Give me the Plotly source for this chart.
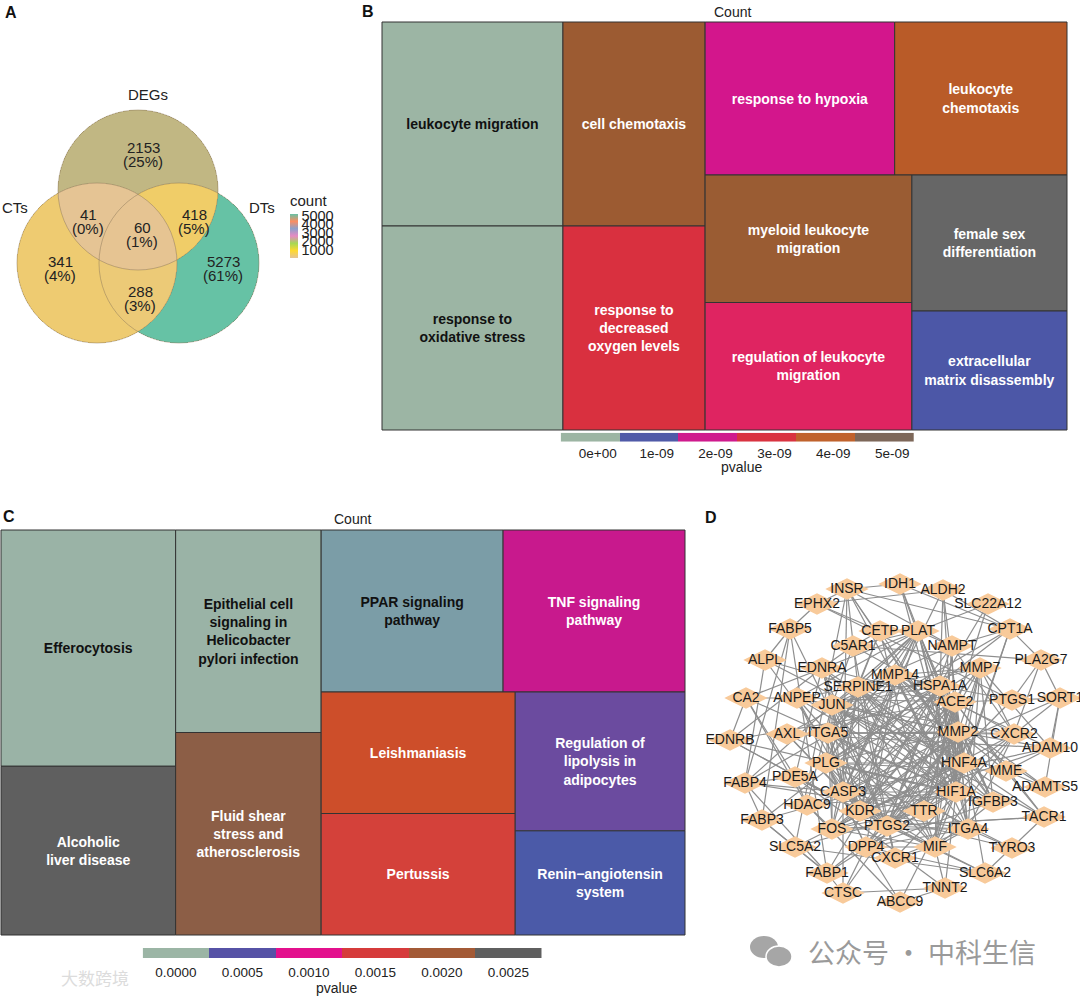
import numpy as np
import plotly.graph_objects as go

W, H = 1080, 996
FONT = "Liberation Sans, Arial, Helvetica, sans-serif"
CJK = "Noto Sans CJK SC"

# ======================= DATA =======================
# Panel A - Venn diagram
venn_sets = ["DEGs", "CTs", "DTs"]
venn_membership = [(1, 0, 0), (0, 1, 0), (0, 0, 1), (1, 1, 0), (1, 0, 1), (0, 1, 1), (1, 1, 1)]
venn_counts = [2153, 341, 5273, 41, 418, 288, 60]
venn_colorbar_ticks = [1000, 2000, 3000, 4000, 5000]

# Panel B - GO treemap
go_terms = ["leukocyte migration", "response to oxidative stress", "cell chemotaxis",
            "response to decreased oxygen levels", "response to hypoxia", "leukocyte chemotaxis",
            "myeloid leukocyte migration", "regulation of leukocyte migration",
            "female sex differentiation", "extracellular matrix disassembly"]
go_display = ["leukocyte migration", "response to<br>oxidative stress", "cell chemotaxis",
              "response to<br>decreased<br>oxygen levels", "response to hypoxia",
              "leukocyte<br>chemotaxis", "myeloid leukocyte<br>migration",
              "regulation of leukocyte<br>migration", "female sex<br>differentiation",
              "extracellular<br>matrix disassembly"]
go_counts = [14, 14, 11, 11, 11, 10, 10, 10, 8, 7]
go_pvalue_ticks = ["0e+00", "1e-09", "2e-09", "3e-09", "4e-09", "5e-09"]

# Panel C - KEGG treemap
kegg_terms = ["Efferocytosis", "Alcoholic liver disease",
              "Epithelial cell signaling in Helicobacter pylori infection",
              "Fluid shear stress and atherosclerosis", "PPAR signaling pathway",
              "TNF signaling pathway", "Leishmaniasis", "Pertussis",
              "Regulation of lipolysis in adipocytes", "Renin\u2212angiotensin system"]
kegg_display = ["Efferocytosis", "Alcoholic<br>liver disease",
                "Epithelial cell<br>signaling in<br>Helicobacter<br>pylori infection",
                "Fluid shear<br>stress and<br>atherosclerosis", "PPAR signaling<br>pathway",
                "TNF signaling<br>pathway", "Leishmaniasis", "Pertussis",
                "Regulation of<br>lipolysis in<br>adipocytes", "Renin\u2212angiotensin<br>system"]
kegg_counts = [7, 5, 5, 5, 5, 5, 4, 4, 4, 3]
kegg_pvalue_ticks = ["0.0000", "0.0005", "0.0010", "0.0015", "0.0020", "0.0025"]

# Panel D - PPI network edges
ppi_adjacency = {
    "HIF1A": "CASP3 JUN PTGS2 KDR MMP2 SERPINE1 ITGA5 HSPA1A MMP14 FOS PLG HNF4A ACE2 MMP7 MIF IGFBP3 PLAT NAMPT EDNRA EDNRB INSR IDH1 ALDH2 CA2 ABCC9 TNNT2 ANPEP DPP4 HDAC9 CPT1A",
    "CASP3": "JUN PTGS2 KDR MMP2 SERPINE1 HSPA1A FOS MMP14 PLG MIF IGFBP3 PLAT ITGA5 HDAC9 AXL ACE2 TTR ALDH2 SORT1 FABP4 CTSC NAMPT INSR ADAM10",
    "JUN": "PTGS2 FOS MMP2 SERPINE1 HSPA1A KDR MMP14 PLAT MMP7 ITGA5 HDAC9 EDNRA C5AR1 CXCR2 ANPEP IGFBP3 FABP4 HNF4A MIF TACR1",
    "PTGS2": "KDR MMP2 SERPINE1 FOS PTGS1 MMP7 ACE2 EDNRA EDNRB TACR1 CXCR2 CXCR1 PLG MIF PDE5A HSPA1A NAMPT ALPL FABP5 ITGA4 SLC6A2",
    "KDR": "MMP2 SERPINE1 ITGA5 PLAT MMP14 ACE2 ITGA4 AXL TYRO3 PLG FOS EDNRA EDNRB PDE5A HSPA1A TTR ADAM10 ANPEP MMP7",
    "MMP2": "SERPINE1 ITGA5 MMP14 PLAT PLG MMP7 ADAM10 ADAMTS5 IGFBP3 ACE2 HSPA1A FOS ITGA4 CTSC ANPEP TTR HNF4A MME DPP4 CXCR2 AXL",
    "SERPINE1": "PLAT PLG ITGA5 MMP14 MMP7 IGFBP3 ACE2 HNF4A FOS ITGA4 CETP ALPL HSPA1A MIF ANPEP NAMPT INSR",
    "ITGA5": "ITGA4 MMP14 PLG AXL PLAT FOS MIF CXCR2 ANPEP HSPA1A",
    "HSPA1A": "FOS MIF HNF4A ITGA4 PLG TTR ALDH2 IDH1 MMP14 ACE2 IGFBP3 PTGS1",
    "MMP14": "PLAT PLG MMP7 ADAM10 ADAMTS5 ITGA4 AXL IGFBP3 DPP4",
    "FOS": "MIF HDAC9 ITGA4 HNF4A TTR CXCR2 TACR1",
    "PLG": "PLAT MMP7 HNF4A TTR ACE2 CETP DPP4 MME IGFBP3",
    "HNF4A": "TTR CETP FABP1 CPT1A ALDH2 IDH1 ACE2 DPP4 INSR SLC5A2 ALPL FABP3",
    "TTR": "ACE2 DPP4 FABP1 SLC5A2 SLC22A12 CETP MIF FABP4",
    "ACE2": "DPP4 MME ANPEP EDNRA EDNRB TACR1 MIF ITGA4 PTGS1 SLC6A2",
    "MMP7": "ITGA4 ADAM10 MIF CXCR2 IGFBP3",
    "ITGA4": "MIF CXCR1 CXCR2 PLAT DPP4 TYRO3",
    "MIF": "CXCR2 CXCR1 DPP4 IGFBP3 NAMPT",
    "IGFBP3": "PLAT INSR DPP4",
    "PLAT": "CETP ANPEP NAMPT C5AR1",
    "CXCR2": "CXCR1 C5AR1 NAMPT SORT1 PLA2G7",
    "C5AR1": "CXCR1 EDNRA CETP PLA2G7",
    "EDNRA": "EDNRB TACR1 PDE5A",
    "FABP4": "FABP5 FABP3 FABP1 CPT1A PDE5A ALPL",
    "FABP5": "FABP3 FABP1 EPHX2 ALPL",
    "FABP3": "FABP1 SLC5A2 CPT1A",
    "FABP1": "SLC5A2 CTSC SLC22A12",
    "CPT1A": "INSR IDH1 ALDH2 NAMPT PLA2G7",
    "INSR": "IDH1 EPHX2 SLC5A2 NAMPT",
    "EPHX2": "ALDH2 CETP PTGS1",
    "DPP4": "ANPEP CXCR1 CTSC SLC6A2 ABCC9",
    "ANPEP": "MME CA2",
    "MME": "ADAM10 ADAMTS5 TACR1",
    "HDAC9": "PDE5A ABCC9 CA2",
    "PDE5A": "TNNT2 SLC6A2 CA2",
    "TNNT2": "ABCC9 CTSC MIF",
    "SLC6A2": "TACR1 SLC5A2",
    "AXL": "TYRO3 ADAM10",
    "SORT1": "PLA2G7 ADAM10 ADAMTS5",
    "CA2": "SLC22A12 EDNRB",
    "PTGS1": "PLA2G7 SORT1",
}

# ======================= LAYOUT (pixel positions / styles) =======================
def px(x):
    return x / W

def py(y):
    return 1 - y / H

venn_palette = ["#E5C494", "#FFD92F", "#A6D854", "#E78AC3", "#8DA0CB", "#FC8D62", "#66C2A5"]
venn_circles = [(138, 190, 80), (97, 263, 80), (179, 263, 80)]
venn_set_label_pos = [(148, 94), (15, 207), (262, 207)]
venn_count_pos = [(143, 154), (60, 268), (223, 268), (88, 221), (194, 221), (140, 298), (142, 234)]

go_colors = ["#9CB5A4", "#9CB5A4", "#9C5B32", "#D9303F", "#D3168C", "#B95B28",
             "#9A5C33", "#DF2461", "#666666", "#4C57A7"]
go_text_colors = ["#111111", "#111111"] + ["#FFFFFF"] * 8
go_bin_colors = ["#9CB5A3", "#4F5AA8", "#CF1A8D", "#D93340", "#C0622C", "#7D6759"]

kegg_colors = ["#9AB3A6", "#5F5F5F", "#9AB3A6", "#8C5E46", "#7B9DA7", "#C8198D",
               "#CD4E2A", "#D4413A", "#6B4B9F", "#4B5AA8"]
kegg_text_colors = ["#111111", "#FFFFFF", "#111111", "#FFFFFF", "#111111",
                    "#FFFFFF", "#FFFFFF", "#FFFFFF", "#FFFFFF", "#FFFFFF"]
kegg_bin_colors = ["#9BB5A5", "#5652A6", "#E3108D", "#D63B3B", "#A35A36", "#5F5F5F"]

node_pos = {
    "INSR": (847, 589), "IDH1": (900, 584), "ALDH2": (943, 590), "EPHX2": (817, 604),
    "SLC22A12": (988, 604), "FABP5": (790, 629), "CETP": (880, 631), "PLAT": (918, 631),
    "CPT1A": (1010, 629), "C5AR1": (853, 646), "NAMPT": (952, 646), "ALPL": (765, 660),
    "EDNRA": (822, 668), "MMP14": (895, 675), "MMP7": (980, 668), "PLA2G7": (1041, 660),
    "SERPINE1": (858, 687), "HSPA1A": (940, 686), "CA2": (746, 698), "ANPEP": (797, 698),
    "JUN": (832, 705), "ACE2": (955, 702), "PTGS1": (1012, 700), "SORT1": (1060, 698),
    "EDNRB": (730, 740), "AXL": (787, 734), "ITGA5": (828, 733), "MMP2": (958, 732),
    "CXCR2": (1014, 734), "ADAM10": (1050, 748), "PLG": (826, 763), "HNF4A": (964, 763),
    "MME": (1006, 771), "PDE5A": (795, 777), "FABP4": (745, 783), "ADAMTS5": (1045, 787),
    "CASP3": (843, 792), "HIF1A": (956, 792), "IGFBP3": (993, 802), "HDAC9": (807, 805),
    "KDR": (860, 811), "TTR": (924, 811), "TACR1": (1044, 817), "FABP3": (762, 820),
    "PTGS2": (887, 826), "FOS": (832, 829), "ITGA4": (968, 829), "TYRO3": (1012, 848),
    "SLC5A2": (795, 847), "DPP4": (866, 847), "MIF": (935, 847), "CXCR1": (895, 858),
    "FABP1": (827, 873), "SLC6A2": (985, 873), "CTSC": (843, 893), "TNNT2": (945, 888),
    "ABCC9": (900, 902),
}

fig = go.Figure()

# ---------------- Panel A: Venn ----------------
gx = np.arange(14, 263, 0.5)
gy = np.arange(107, 347, 0.5)
X, Y = np.meshgrid(gx, gy)
inside = [((X - cx) ** 2 + (Y - cy) ** 2 <= r * r) for cx, cy, r in venn_circles]
Z = np.full(X.shape, np.nan)
for mem, cnt in zip(venn_membership, venn_counts):
    mask = np.ones(X.shape, dtype=bool)
    for k, m in enumerate(mem):
        mask &= inside[k] if m else ~inside[k]
    Z[mask] = cnt

fig.add_trace(go.Heatmap(
    x=gx, y=gy, z=Z, xaxis="x", yaxis="y",
    colorscale=[[i / (len(venn_palette) - 1), c] for i, c in enumerate(venn_palette)],
    zmin=min(venn_counts), zmax=max(venn_counts), zsmooth=False, hoverinfo="skip",
    colorbar=dict(
        title=dict(text="count", side="top", font=dict(family=FONT, size=15, color="#222")),
        tickvals=venn_colorbar_ticks, ticks="", tickfont=dict(family=FONT, size=14.5, color="#222"),
        thickness=8, thicknessmode="pixels", len=66, lenmode="pixels",
        x=px(290), xanchor="left", y=py(224.5), yanchor="middle",
        xpad=0, ypad=0, outlinewidth=0,
    ),
))

shapes = []
for cx, cy, r in venn_circles:
    shapes.append(dict(type="circle", xref="x", yref="y", x0=cx - r, x1=cx + r,
                       y0=cy - r, y1=cy + r, line=dict(color="rgba(140,120,90,0.55)", width=0.9)))

annotations = []


def note(x, y, text, size, color="#222", family=FONT, ref="paper"):
    if ref == "paper":
        annotations.append(dict(x=px(x), y=py(y), xref="paper", yref="paper", text=text,
                                showarrow=False, xanchor="center", yanchor="middle",
                                font=dict(family=family, size=size, color=color)))
    else:
        annotations.append(dict(x=x, y=y, xref="x", yref="y", text=text,
                                showarrow=False, xanchor="center", yanchor="middle",
                                font=dict(family=family, size=size, color=color)))


total = sum(venn_counts)
for (x, y), cnt in zip(venn_count_pos, venn_counts):
    note(x, y - 7, str(cnt), 15, ref="x")
    note(x, y + 7.5, f"({cnt / total * 100:.0f}%)", 15, ref="x")
for (x, y), name in zip(venn_set_label_pos, venn_sets):
    note(x, y, name, 15, ref="x")

# ---------------- Panel B: GO treemap ----------------
fig.add_trace(go.Treemap(
    labels=go_terms, parents=[""] * len(go_terms), values=go_counts,
    text=go_display, texttemplate="<b>%{text}</b>", textposition="middle center",
    textfont=dict(family=FONT, size=14, color=go_text_colors),
    marker=dict(colors=go_colors, line=dict(color="#333333", width=1),
                pad=dict(t=0, l=0, r=0, b=0)),
    tiling=dict(packing="squarify", squarifyratio=1, pad=0),
    pathbar=dict(visible=False), sort=True, hoverinfo="label+value",
    domain=dict(x=[px(382), px(1067)], y=[py(430), py(22)]),
))
fig.add_trace(go.Heatmap(
    z=[list(range(len(go_bin_colors)))], x=list(range(len(go_bin_colors))), y=[0],
    colorscale=[[i / (len(go_bin_colors) - 1), c] for i, c in enumerate(go_bin_colors)],
    zmin=0, zmax=len(go_bin_colors) - 1, showscale=False, hoverinfo="skip",
    xaxis="x2", yaxis="y2",
))

# ---------------- Panel C: KEGG treemap ----------------
fig.add_trace(go.Treemap(
    labels=kegg_terms, parents=[""] * len(kegg_terms), values=kegg_counts,
    text=kegg_display, texttemplate="<b>%{text}</b>", textposition="middle center",
    textfont=dict(family=FONT, size=14, color=kegg_text_colors),
    marker=dict(colors=kegg_colors, line=dict(color="#333333", width=1),
                pad=dict(t=0, l=0, r=0, b=0)),
    tiling=dict(packing="squarify", squarifyratio=1, pad=0),
    pathbar=dict(visible=False), sort=True, hoverinfo="label+value",
    domain=dict(x=[px(1), px(685)], y=[py(935), py(530)]),
))
fig.add_trace(go.Heatmap(
    z=[list(range(len(kegg_bin_colors)))], x=list(range(len(kegg_bin_colors))), y=[0],
    colorscale=[[i / (len(kegg_bin_colors) - 1), c] for i, c in enumerate(kegg_bin_colors)],
    zmin=0, zmax=len(kegg_bin_colors) - 1, showscale=False, hoverinfo="skip",
    xaxis="x3", yaxis="y3",
))

# ---------------- Panel D: PPI network ----------------
edges = []
seen = set()
for a, targets in ppi_adjacency.items():
    for b in targets.split():
        key = tuple(sorted((a, b)))
        if key not in seen and a != b:
            seen.add(key)
            edges.append(key)
ex, ey = [], []
for a, b in edges:
    ex += [node_pos[a][0], node_pos[b][0], None]
    ey += [node_pos[a][1], node_pos[b][1], None]
fig.add_trace(go.Scatter(x=ex, y=ey, mode="lines", xaxis="x4", yaxis="y4",
                         line=dict(color="#8E8E8E", width=1.2), hoverinfo="skip", cliponaxis=False))
names = list(node_pos.keys())
fig.add_trace(go.Scatter(
    x=[node_pos[n][0] for n in names], y=[node_pos[n][1] for n in names],
    mode="markers+text", text=names, textposition="middle center", xaxis="x4", yaxis="y4",
    marker=dict(symbol="diamond-wide", size=31, color="#F8CA9A", line=dict(width=0)),
    textfont=dict(family=FONT, size=14, color="#1A1A1A"), cliponaxis=False, hoverinfo="text",
))

# ---------------- annotations (titles etc.) ----------------
for letter, x, y in [("A", 11, 12), ("B", 368, 11), ("C", 9, 516), ("D", 711, 517)]:
    note(x, y, f"<b>{letter}</b>", 16, color="#111")
note(732, 12, "Count", 14)
note(352, 519, "Count", 14)
note(741, 467, "pvalue", 14)
note(336, 988, "pvalue", 14)

# watermarks
note(922, 951, "公众号 · 中科生信", 27, color="#9A9A9A", family=CJK)
note(95, 977, "大数跨境", 17, color="#DCDCDC", family=CJK)
shapes.append(dict(type="circle", xref="paper", yref="paper", x0=px(750), x1=px(778),
                   y0=py(958), y1=py(936), fillcolor="#A6A6A6", line=dict(width=0)))
shapes.append(dict(type="circle", xref="paper", yref="paper", x0=px(766), x1=px(792),
                   y0=py(967), y1=py(946), fillcolor="#A6A6A6", line=dict(color="white", width=1.5)))

hidden = dict(visible=False, showgrid=False, zeroline=False, fixedrange=True)
fig.update_layout(
    width=W, height=H, margin=dict(l=0, r=0, t=0, b=0, pad=0, autoexpand=False),
    paper_bgcolor="white", plot_bgcolor="rgba(0,0,0,0)", showlegend=False,
    font=dict(family=FONT, color="#222"),
    xaxis=dict(domain=[0, px(370)], range=[0, 370], anchor="y", **hidden),
    yaxis=dict(domain=[py(400), 1], range=[400, 0], anchor="x", **hidden),
    xaxis2=dict(domain=[px(560.7), px(914)], range=[-0.5, len(go_bin_colors) - 0.5], anchor="y2",
                tickvals=[i + 0.13 for i in range(len(go_pvalue_ticks))], ticktext=go_pvalue_ticks,
                ticks="", showline=False, showgrid=False, zeroline=False, fixedrange=True,
                ticklabelstandoff=2, tickfont=dict(family=FONT, size=13.5, color="#222")),
    yaxis2=dict(domain=[py(441.7), py(432.7)], range=[-0.5, 0.5], anchor="x2", **hidden),
    xaxis3=dict(domain=[px(142.7), px(541.7)], range=[-0.5, len(kegg_bin_colors) - 0.5], anchor="y3",
                tickvals=list(range(len(kegg_pvalue_ticks))), ticktext=kegg_pvalue_ticks,
                ticks="", showline=False, showgrid=False, zeroline=False, fixedrange=True,
                ticklabelstandoff=4, tickfont=dict(family=FONT, size=13.5, color="#222")),
    yaxis3=dict(domain=[py(958), py(948)], range=[-0.5, 0.5], anchor="x3", **hidden),
    xaxis4=dict(domain=[px(700), 1], range=[700, 1080], anchor="y4", **hidden),
    yaxis4=dict(domain=[py(925), py(565)], range=[925, 565], anchor="x4", **hidden),
    shapes=shapes, annotations=annotations,
)

fig.write_html("out.html", config={"displayModeBar": False},
               post_script="document.body.style.margin='0';document.body.style.padding='0';")
